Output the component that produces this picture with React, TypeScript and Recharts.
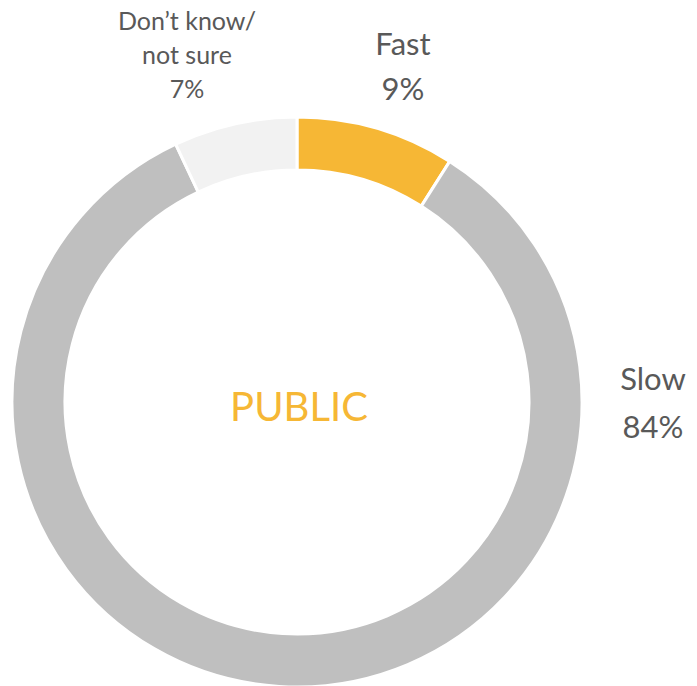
import React from 'react';
import { PieChart, Pie, Cell } from 'recharts';

const categories = ['Fast', 'Slow', 'Don\u2019t know/\nnot sure'];
const shares = [9, 84, 7];
const colors = ['#F6B735', '#BFBFBF', '#F2F2F2'];

const data = categories.map((name, i) => ({ name, value: shares[i] }));

// label anchor (baseline of the first line) relative to the pie centre
const labelLayout: Record<string, { dx: number; dy: number; size: number; lh: number }> = {
  Fast: { dx: 106, dy: -347, size: 31, lh: 45 },
  Slow: { dx: 356, dy: -12, size: 31, lh: 48 },
  'Don\u2019t know/\nnot sure': { dx: -110, dy: -372, size: 25, lh: 34 },
};

const renderLabel = (props: any) => {
  const { cx, cy, name, value } = props;
  const l = labelLayout[name];
  if (!l) return null;
  const lines = [...String(name).split('\n'), `${value}%`];
  return (
    <text x={cx + l.dx} y={cy + l.dy} textAnchor="middle" fill="#595959" fontSize={l.size} fontFamily="Lato, 'Open Sans', sans-serif">
      {lines.map((t, i) => (
        <tspan key={i} x={cx + l.dx} dy={i === 0 ? 0 : l.lh}>{t}</tspan>
      ))}
    </text>
  );
};

export default function App() {
  return (
    <div style={{ position: 'absolute', left: 0, top: 0, width: 697, height: 686, background: '#fff' }}>
      <PieChart width={697} height={686} margin={{ top: 0, right: 0, bottom: 0, left: 0 }}>
        <Pie
          data={data}
          dataKey="value"
          nameKey="name"
          cx={297}
          cy={402}
          innerRadius={232}
          outerRadius={285}
          startAngle={90}
          endAngle={-270}
          stroke="#ffffff"
          strokeWidth={3}
          label={renderLabel}
          labelLine={false}
          isAnimationActive={false}
        >
          {data.map((d, i) => (
            <Cell key={d.name} fill={colors[i]} />
          ))}
        </Pie>
        <text x={299} y={421} textAnchor="middle" fill="#F6B735" fontSize={40} fontFamily="Lato, 'Open Sans', sans-serif">
          PUBLIC
        </text>
      </PieChart>
    </div>
  );
}
